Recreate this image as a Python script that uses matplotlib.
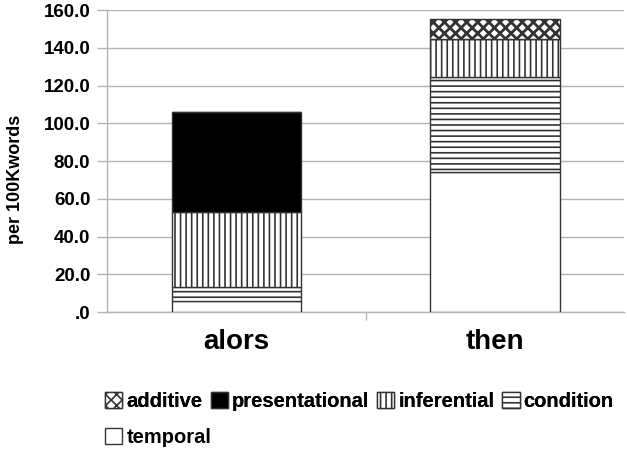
import matplotlib.pyplot as plt
import numpy as np

plt.rcParams['font.family'] = ['Liberation Sans', 'DejaVu Sans']
plt.rcParams['hatch.linewidth'] = 1.2
plt.rcParams['hatch.color'] = '#222222'

categories = ['alors', 'then']
temporal = [5.8, 74.3]
condition = [7.4, 50.0]
inferential = [39.6, 20.2]
presentational = [53.2, 0.0]
additive = [0.0, 10.6]

series = [
    ('temporal', temporal, 'white', ''),
    ('condition', condition, 'white', '---'),
    ('inferential', inferential, 'white', '|||'),
    ('presentational', presentational, 'black', ''),
    ('additive', additive, 'white', 'xxx'),
]

fig = plt.figure(figsize=(6.27, 4.51), dpi=100)
ax = fig.add_axes([0.1707, 0.3082, 0.8253, 0.6696])

x = np.arange(len(categories))
bottom = np.zeros(len(categories))
handles = {}
for name, vals, color, hatch in series:
    vals = np.array(vals)
    bars = ax.bar(x, vals, 0.5, bottom=bottom, color=color, hatch=hatch,
                  edgecolor='#333333', linewidth=1.0, label=name, zorder=3)
    if name == 'additive':
        for b in bars:
            try:
                b.set_hatch_linewidth(2.0)
            except AttributeError:
                pass
    handles[name] = bars
    bottom = bottom + vals

ax.set_xlim(-0.5, 1.5)
ax.set_ylim(0, 160)
yt = np.arange(0, 161, 20)
ax.set_yticks(yt)
ax.set_yticklabels(['.0' if v == 0 else f'{v:.1f}' for v in yt],
                   fontsize=13.5, fontweight='bold')
ax.yaxis.grid(True, color='#b3b3b3', linewidth=1.0, zorder=0)
ax.set_axisbelow(True)

ax.set_xticks([0.5])
ax.set_xticklabels([''])
ax.set_xticks(x, minor=True)
ax.set_xticklabels(categories, minor=True, fontsize=20, fontweight='bold')
ax.tick_params(axis='x', which='minor', length=0, pad=12)
ax.tick_params(axis='x', which='major', length=6, color='#b3b3b3', width=1)
ax.tick_params(axis='y', length=7, color='#b3b3b3', width=1, pad=5)

for s in ['top', 'right']:
    ax.spines[s].set_visible(False)
for s in ['left', 'bottom']:
    ax.spines[s].set_color('#b3b3b3')
    ax.spines[s].set_linewidth(1.0)

ax.set_ylabel('per 100Kwords', fontsize=13, fontweight='bold')
ax.yaxis.set_label_coords(-0.16, 0.44)

row1 = ['additive', 'presentational', 'inferential', 'condition']
leg1 = fig.legend([handles[n] for n in row1], row1, loc='center left',
                  bbox_to_anchor=(0.168, 0.109), ncol=4, frameon=False,
                  prop={'weight': 'bold', 'size': 14.5}, handlelength=0.85,
                  handleheight=0.85, handletextpad=0.2, columnspacing=0.4,
                  borderaxespad=0, borderpad=0)
fig.add_artist(leg1)
fig.legend([handles['temporal']], ['temporal'], loc='center left',
           bbox_to_anchor=(0.168, 0.031), frameon=False,
           prop={'weight': 'bold', 'size': 14.5}, handlelength=0.85,
           handleheight=0.85, handletextpad=0.2, borderaxespad=0, borderpad=0)

fig.savefig('out.png', dpi=100)
